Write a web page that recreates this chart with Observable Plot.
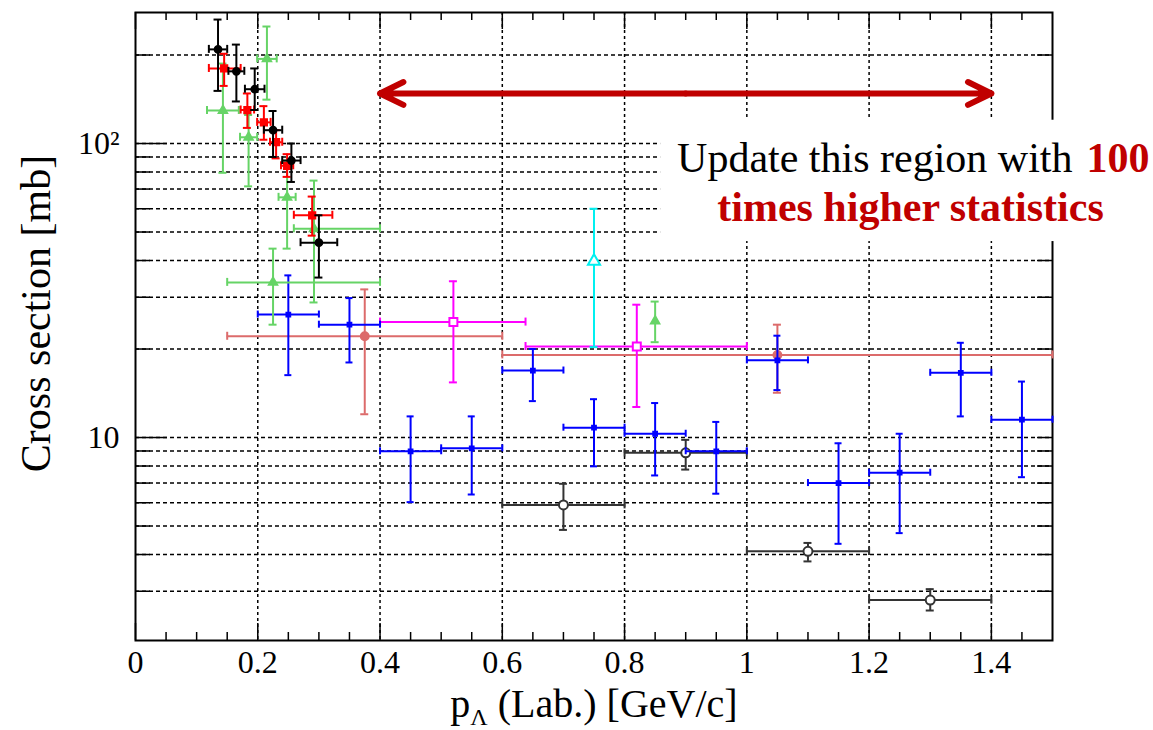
<!DOCTYPE html>
<html><head><meta charset="utf-8">
<script src="https://cdn.jsdelivr.net/npm/d3@7"></script>
<script src="https://cdn.jsdelivr.net/npm/@observablehq/plot@0.6"></script>
<style>
html,body{margin:0;padding:0;background:#fff;}
#chart{width:1153px;height:730px;overflow:hidden;}
</style></head><body><div id="chart"></div>
<script>
// ---------- data ----------
// black filled circles
const bkX   = [0.135, 0.165, 0.195, 0.225, 0.255, 0.30];
const bkY   = [209, 176, 153, 111, 87.5, 46];
const bkXlo = [0.120, 0.152, 0.179, 0.210, 0.240, 0.270];
const bkXhi = [0.150, 0.178, 0.211, 0.240, 0.270, 0.330];
const bkYlo = [151, 139, 130, 90, 74, 35];
const bkYhi = [264, 217, 180, 129, 100, 57];
// red filled squares
const rdX   = [0.145, 0.183, 0.210, 0.230, 0.248, 0.289];
const rdY   = [180, 130, 118, 101, 84, 57];
const rdXlo = [0.120, 0.172, 0.199, 0.220, 0.238, 0.259];
const rdXhi = [0.172, 0.194, 0.221, 0.240, 0.258, 0.322];
const rdYlo = [157, 113, 103, 89, 77, 48.6];
const rdYhi = [202, 148, 134, 111, 92, 66];
// green triangles
const gnX   = [0.143, 0.185, 0.215, 0.225, 0.248, 0.292, 0.85];
const gnY   = [129.5, 105, 194, 33.7, 65.6, 51.3, 24.9];
const gnXlo = [0.117, 0.171, 0.199, 0.150, 0.234, 0.259, 0.85];
const gnXhi = [0.169, 0.199, 0.231, 0.400, 0.262, 0.400, 0.85];
const gnYlo = [79.5, 71.5, 141, 24.2, 43.9, 28.8, 21.1];
const gnYhi = [187, 125, 250, 43.9, 87.5, 74.8, 29];
// blue
const buX   = [0.25, 0.35, 0.45, 0.55, 0.65, 0.75, 0.85, 0.95, 1.05, 1.15, 1.25, 1.35, 1.45];
const buY   = [26.2, 24.2, 8.98, 9.19, 16.9, 10.8, 10.3, 8.98, 18.3, 7.0, 7.59, 16.6, 11.5];
const buXlo = [0.20, 0.30, 0.40, 0.50, 0.60, 0.70, 0.80, 0.90, 1.00, 1.10, 1.20, 1.30, 1.40];
const buXhi = [0.30, 0.40, 0.50, 0.60, 0.70, 0.80, 0.90, 1.00, 1.10, 1.20, 1.30, 1.40, 1.50];
const buYlo = [16.3, 18.0, 6.03, 6.4, 13.3, 7.98, 7.43, 6.44, 14.5, 4.35, 4.73, 11.8, 7.33];
const buYhi = [35.6, 29.8, 11.8, 11.8, 20.0, 13.5, 13.1, 11.3, 22.2, 9.56, 10.3, 21.0, 15.5];
// indian red circles (wide bins)
const irX   = [0.375, 1.05];
const irY   = [22.1, 19.1];
const irXlo = [0.15, 0.60];
const irXhi = [0.60, 1.50];
const irYlo = [12.0, 14.2];
const irYhi = [31.9, 24.2];
// magenta open squares
const mgX   = [0.52, 0.82];
const mgY   = [24.7, 20.4];
const mgXlo = [0.40, 0.638];
const mgXhi = [0.638, 1.00];
const mgYlo = [15.4, 12.7];
const mgYhi = [34, 28.3];
// cyan open triangle
const cyX   = [0.75];
const cyY   = [39.8];
const cyXlo = [0.75];
const cyXhi = [0.75];
const cyYlo = [20.3];
const cyYhi = [60];
// black open circles
const ocX   = [0.70, 0.90, 1.10, 1.30];
const ocY   = [5.9, 8.87, 4.1, 2.8];
const ocXlo = [0.60, 0.80, 1.00, 1.20];
const ocXhi = [0.80, 1.00, 1.20, 1.40];
const ocYlo = [4.85, 7.78, 3.79, 2.58];
const ocYhi = [6.96, 9.82, 4.38, 3.05];

// axes / ticks
const xMajor = [0, 0.2, 0.4, 0.6, 0.8, 1.0, 1.2, 1.4];
const xMinor = [0.05,0.1,0.15,0.25,0.3,0.35,0.45,0.5,0.55,0.65,0.7,0.75,0.85,0.9,0.95,1.05,1.1,1.15,1.25,1.3,1.35,1.45];
const xGrid  = [0.2, 0.4, 0.6, 0.8, 1.0, 1.2, 1.4];
const yMajor = [10, 100];
const yMinor = [3,4,5,6,7,8,9,20,30,40,50,60,70,80,90,200];
const yTickLabels = ["10", "10\u00B2"];
const xTitle = ["p\u039B (Lab.) [GeV/c]"];
const yTitle = ["Cross section [mb]"];

// annotation
const noteLine1a = ["Update this region with"];
const noteLine1b = ["100"];
const noteLine2  = ["times higher statistics"];
const noteBox = {x1: 0.859, x2: 1.67, y1: 46.4, y2: 120};
const noteX1a = 1.5327, noteX1b = 1.5556, noteX2 = 1.2677;
const noteY1 = 79.7, noteY2 = 54.7;
const arrowEnds = [0.4, 1.4];
const arrowY = 148;

// ---------- layout ----------
const W = 1153, H = 730;
const mL = 135, mR = 101, mT = 12, mB = 90;
const pw = W - mL - mR, ph = H - mT - mB;
const serif = "'Liberation Serif','Times New Roman',Times,serif";
const darkRed = "#c00000";

function rowsOf(x, y, xlo, xhi, ylo, yhi) {
  return x.map((v, i) => ({x: v, y: y[i], xlo: xlo[i], xhi: xhi[i], ylo: ylo[i], yhi: yhi[i]}));
}
function seriesMarks(rows, o) {
  const c = o.color, w = o.width || 2, cap = o.cap || 4;
  const withX = rows.filter(d => d.xhi > d.xlo);
  return [
    Plot.ruleY(withX, {y: "y", x1: "xlo", x2: "xhi", stroke: c, strokeWidth: w}),
    Plot.ruleX(rows, {x: "x", y1: "ylo", y2: "yhi", stroke: c, strokeWidth: w}),
    Plot.ruleY(rows, {y: "ylo", x1: "x", x2: "x", insetLeft: -cap, insetRight: -cap, stroke: c, strokeWidth: w}),
    Plot.ruleY(rows, {y: "yhi", x1: "x", x2: "x", insetLeft: -cap, insetRight: -cap, stroke: c, strokeWidth: w}),
    Plot.ruleX(withX, {x: "xlo", y1: "y", y2: "y", insetTop: -cap, insetBottom: -cap, stroke: c, strokeWidth: w}),
    Plot.ruleX(withX, {x: "xhi", y1: "y", y2: "y", insetTop: -cap, insetBottom: -cap, stroke: c, strokeWidth: w}),
    Plot.dot(rows, {x: "x", y: "y", symbol: o.symbol, r: o.r, fill: o.fill, stroke: o.stroke || c, strokeWidth: o.sw || 1.5})
  ];
}

const marks = [
  // grid
  Plot.ruleY(yMajor.concat(yMinor), {stroke: "#000", strokeWidth: 1.5, strokeDasharray: "4,3"}),
  Plot.ruleX(xGrid, {stroke: "#000", strokeWidth: 1.5, strokeDasharray: "3,3"}),
  // ticks (inside the frame)
  Plot.ruleY(yMinor, {stroke: "#000", strokeWidth: 1.5, insetRight: pw - 15}),
  Plot.ruleY(yMajor, {stroke: "#000", strokeWidth: 1.5, insetRight: pw - 32}),
  Plot.ruleY(yMinor.concat(yMajor), {stroke: "#000", strokeWidth: 1.5, insetLeft: pw - 15}),
  Plot.ruleX(xMinor, {stroke: "#000", strokeWidth: 1.5, insetTop: ph - 8}),
  Plot.ruleX(xMajor, {stroke: "#000", strokeWidth: 1.5, insetTop: ph - 17}),
  Plot.ruleX(xMinor, {stroke: "#000", strokeWidth: 1.5, insetBottom: ph - 8}),
  Plot.ruleX(xMajor, {stroke: "#000", strokeWidth: 1.5, insetBottom: ph - 17}),
  Plot.frame({stroke: "#000", strokeWidth: 2}),
  // data
  ...seriesMarks(rowsOf(irX, irY, irXlo, irXhi, irYlo, irYhi), {color: "#dc6b6b", symbol: "circle", r: 4.2, fill: "#dc6b6b"}),
  ...seriesMarks(rowsOf(mgX, mgY, mgXlo, mgXhi, mgYlo, mgYhi), {color: "#ff00ff", symbol: "square", r: 4.5, fill: "white", sw: 2}),
  ...seriesMarks(rowsOf(cyX, cyY, cyXlo, cyXhi, cyYlo, cyYhi), {color: "#00f0f0", symbol: "triangle", r: 4.5, fill: "white", sw: 2}),
  ...seriesMarks(rowsOf(ocX, ocY, ocXlo, ocXhi, ocYlo, ocYhi), {color: "#333", symbol: "circle", r: 4.5, fill: "white", sw: 2}),
  ...seriesMarks(rowsOf(buX, buY, buXlo, buXhi, buYlo, buYhi), {color: "#0000ff", symbol: "square", r: 2.4, fill: "#0000ff", cap: 3.5}),
  ...seriesMarks(rowsOf(gnX, gnY, gnXlo, gnXhi, gnYlo, gnYhi), {color: "#66d466", symbol: "triangle", r: 3.4, fill: "#66d466"}),
  ...seriesMarks(rowsOf(rdX, rdY, rdXlo, rdXhi, rdYlo, rdYhi), {color: "#ff0000", symbol: "square", r: 3.8, fill: "#ff0000"}),
  ...seriesMarks(rowsOf(bkX, bkY, bkXlo, bkXhi, bkYlo, bkYhi), {color: "#000", symbol: "circle", r: 3.6, fill: "#000"}),
  // axes labels
  Plot.axisX({ticks: xMajor, tickSize: 0, tickPadding: 10, label: null, tickFormat: d => String(d), fontSize: 32}),
  Plot.axisY({ticks: yMajor, tickSize: 0, tickPadding: 16, label: null, tickFormat: (d, i) => yTickLabels[yMajor.indexOf(d)], fontSize: 32}),
  Plot.text(xTitle, {frameAnchor: "bottom", dy: 76, textAnchor: "middle", lineAnchor: "bottom", fontSize: 40, fill: "#000"}),
  Plot.text(yTitle, {frameAnchor: "left", dx: -86, dy: -13, rotate: -90, textAnchor: "middle", lineAnchor: "bottom", fontSize: 42, fill: "#000"}),
  // annotation
  Plot.rect([noteBox], {x1: "x1", x2: "x2", y1: "y1", y2: "y2", fill: "white"}),
  Plot.text(noteLine1a, {x: noteX1a, y: noteY1, textAnchor: "end", lineAnchor: "bottom", fontSize: 42, fill: "#000"}),
  Plot.text(noteLine1b, {x: noteX1b, y: noteY1, textAnchor: "start", lineAnchor: "bottom", fontSize: 42, fontWeight: "bold", fill: darkRed}),
  Plot.text(noteLine2, {x: noteX2, y: noteY2, textAnchor: "middle", lineAnchor: "bottom", fontSize: 42, fontWeight: "bold", fill: darkRed}),
  Plot.arrow(arrowEnds.map(e => ({from: (arrowEnds[0] + arrowEnds[1]) / 2, to: e, y: arrowY})),
    {x1: "from", x2: "to", y1: "y", y2: "y", stroke: darkRed, strokeWidth: 6, headLength: 6.5, headAngle: 52, strokeLinecap: "round", strokeLinejoin: "round"})
];

const chart = Plot.plot({
  width: W, height: H,
  marginLeft: mL, marginRight: mR, marginTop: mT, marginBottom: mB,
  style: {fontFamily: serif, fontSize: "32px", background: "white", color: "black", overflow: "visible"},
  x: {domain: [0, 1.5], label: null},
  y: {type: "log", domain: [2.04, 279], label: null},
  marks
});

// subscript Lambda in the x title
d3.select(chart).selectAll("text").filter(function() { return this.textContent === xTitle[0]; }).each(function() {
  const t = d3.select(this);
  t.text(null);
  t.append("tspan").text("p");
  t.append("tspan").attr("font-size", "0.6em").attr("dy", "0.35em").text("\u039B");
  t.append("tspan").attr("dy", "-0.21em").text(" (Lab.) [GeV/c]");
});

document.getElementById("chart").appendChild(chart);
</script>
</body></html>
